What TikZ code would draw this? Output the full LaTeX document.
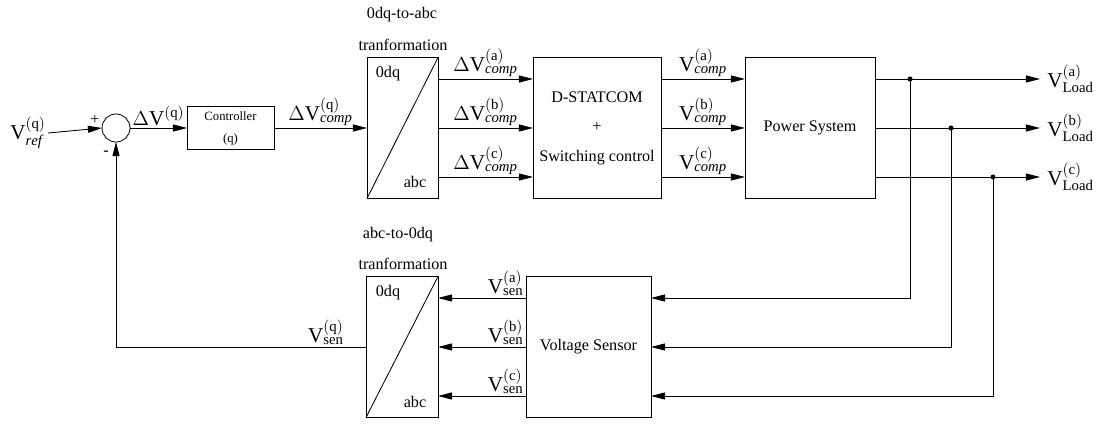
\documentclass[tikz,border=0pt]{standalone}
\usepackage{fontspec}
\setmainfont{Liberation Serif}
\usetikzlibrary{arrows.meta, positioning, calc}

\begin{document}
\begin{tikzpicture}[x=0.025cm, y=-0.025cm, >={Triangle[length=10pt, width=5pt]},
    line width=0.6pt,
    blk/.style={draw, inner sep=2pt, outer sep=0pt, minimum height=3.525cm,
                align=center, font=\fontsize{11.5}{21}\selectfont},
    sig/.style={font=\fontsize{15}{17}\selectfont, inner sep=1.5pt},
    txt/.style={font=\fontsize{11.5}{13}\selectfont}]
  \useasboundingbox (0,0) rectangle (1096,425);

  % Summing junction and controller
  \node[draw, circle, minimum size=0.7cm, inner sep=0pt, outer sep=0pt] (sum) at (116,128) {};
  \node[sig] (vref) at (28,133) {$\mathrm{V}^{\mathrm{(q)}}_{\mathit{ref}}$};
  \node[txt] (plus) at (95,120) {+};
  \node[txt] (minus) at (106,153) {-};
  \node[draw, outer sep=0pt, minimum width=2.175cm, minimum height=1.075cm, align=center,
        font=\fontsize{9}{15.6}\selectfont] (ctrl) at (230.5,128) {Controller\\(q)};

  \draw[->] (vref.east) -- (sum.west);
  \draw[->] (sum.east) -- (ctrl.west)
    node[midway, above, sig] {$\Delta\mathrm{V}^{\mathrm{(q)}}$};

  % Blocks
  \node[blk, minimum width=1.775cm] (dq2abc) at (402.5,128) {};
  \node[blk, minimum width=3.2cm] (statcom) at (597,128) {D-STATCOM\\+\\Switching control};
  \node[blk, minimum width=3.25cm] (power) at (810,128) {Power System};
  \node[blk, minimum width=1.8cm] (abc2dq) at (402,347) {};
  \node[blk, minimum width=3.125cm] (sensor) at (588.5,347) {Voltage Sensor};

  % Transformation blocks
  \draw (dq2abc.south west) -- (dq2abc.north east);
  \draw (abc2dq.south west) -- (abc2dq.north east);
  \node[txt] (in1) at (388,74) {0dq};
  \node[txt] (out1) at (415,182) {abc};
  \node[txt] (in2) at (388,293) {0dq};
  \node[txt] (out2) at (415,402) {abc};
  \node[txt] (t1a) at (402,15) {0dq-to-abc};
  \node[txt] (t1b) at (403,45) {tranformation};
  \node[txt] (t2a) at (398,235) {abc-to-0dq};
  \node[txt] (t2b) at (403,264) {tranformation};

  \draw[->] (ctrl.east) -- (dq2abc.west)
    node[midway, above, sig] {$\Delta\mathrm{V}^{\mathrm{(q)}}_{\mathit{comp}}$};

  % Three phases
  \foreach \p/\dy/\tx in {a/-49/910, b/0/951, c/49/993} {
    \draw[->] ($(dq2abc.east)+(0,\dy)$) -- ($(statcom.west)+(0,\dy)$)
      node[midway, above, sig] {$\Delta\mathrm{V}^{\mathrm{(\p)}}_{\mathit{comp}}$};
    \draw[->] ($(statcom.east)+(0,\dy)$) -- ($(power.west)+(0,\dy)$)
      node[midway, above, sig] {$\mathrm{V}^{\mathrm{(\p)}}_{\mathit{comp}}$};
    \node[sig, anchor=west, inner xsep=5pt] (load\p) at (1040,128+\dy)
      {$\mathrm{V}^{\mathrm{(\p)}}_{\mathrm{Load}}$};
    \coordinate (tap\p) at (\tx,128+\dy);
    \draw[->] ($(power.east)+(0,\dy)$) -- (load\p.west);
    \fill (tap\p) circle (1.8pt);
    \draw[->] (tap\p) |- ($(sensor.east)+(0,\dy)$);
    \draw[->] ($(sensor.west)+(0,\dy)$) -- ($(abc2dq.east)+(0,\dy)$)
      node[pos=0, above left, sig] {$\mathrm{V}^{\mathrm{(\p)}}_{\mathrm{sen}}$};
  }

  % Feedback
  \draw[->] (abc2dq.west) -| (sum.south)
    node[pos=0.08, above, sig] {$\mathrm{V}^{\mathrm{(q)}}_{\mathrm{sen}}$};
\end{tikzpicture}
\end{document}
